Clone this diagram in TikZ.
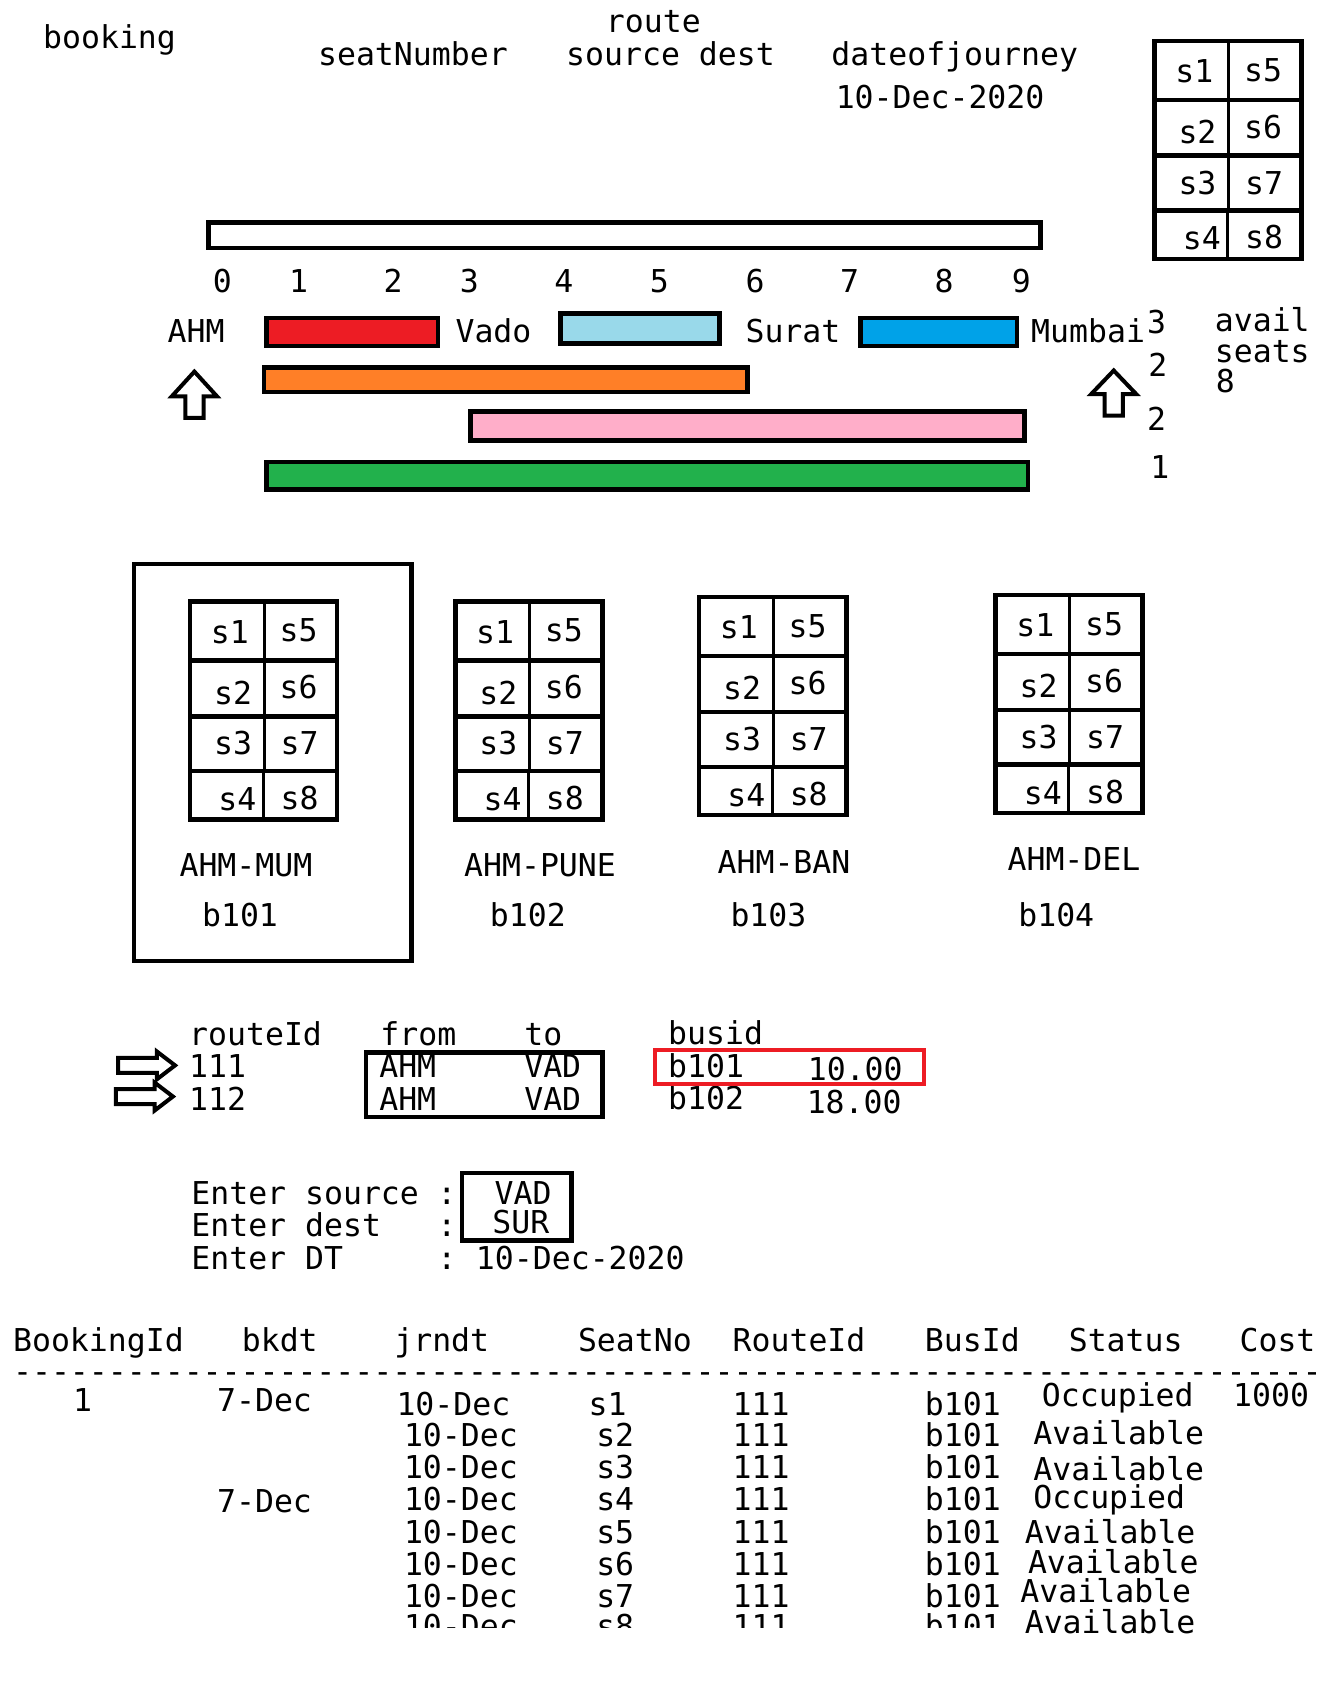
\documentclass[tikz,border=0pt]{standalone}
\usepackage{fontspec}
\newfontfamily\djm{DejaVu Sans Mono}[Ligatures=TeXOff]
\definecolor{pred}{HTML}{ED1C24}
\definecolor{plblue}{HTML}{99D9EA}
\definecolor{pblue}{HTML}{00A2E8}
\definecolor{porange}{HTML}{FF7F27}
\definecolor{ppink}{HTML}{FFAEC9}
\definecolor{pgreen}{HTML}{22B14C}
\tikzset{
  t/.style={font=\djm\fontsize{31.5}{36}\selectfont, inner sep=0pt, text height=23pt, text depth=0pt},
  tw/.style={t, anchor=west},
  thickline/.style={line width=4.5pt},
  bar/.style={draw=black, line width=4.5pt},
  blockarrow/.style={draw=black, line width=4pt, fill=white, line join=miter},
  seatgrid/.pic={
    \draw[thickline] (0,0) rectangle (137,203);
    \draw[thickline] (0,55)--(137,55) (0,107)--(137,107) (0,158)--(137,158);
    \draw[line width=3pt] (69,0)--(69,158);
    \draw[line width=3pt] (68,158)--(68,205);
    \node[t] (-s1) at (37,28) {s1};
    \node[t] (-s5) at (101,27) {s5};
    \node[t] (-s2) at (40,85) {s2};
    \node[t] (-s6) at (101,80) {s6};
    \node[t] (-s3) at (40,132) {s3};
    \node[t] (-s7) at (102,132) {s7};
    \node[t] (-s4) at (44,184) {s4};
    \node[t] (-s8) at (102,183) {s8};
  }
}
\begin{document}
\begin{tikzpicture}[x=1.074pt,y=-1.074pt]
\useasboundingbox (0,0) rectangle (1247.7,1568);

% top labels
\node[tw] (booking) at (40,34) {booking};
\node[tw] (route) at (564,20) {route};
\node[tw] (seatnum) at (296,50) {seatNumber};
\node[tw] (srcdest) at (527,50) {source dest};
\node[tw] (doj) at (774,50) {dateofjourney};
\node[tw] (dojval) at (778,90) {10-Dec-2020};

\pic (tg) at (1075,38) {seatgrid};

% scale bar
\draw[bar, fill=white] (194,207) rectangle (969,231);
\foreach \n/\xx in {0/207,1/278,2/366,3/437,4/525,5/614,6/703,7/791,8/879,9/951}
  \node[t] (num\n) at (\xx,262) {\n};

% stations and segments
\node[tw] (ahm) at (156,308) {AHM};
\draw[bar, fill=pred] (248,296) rectangle (408,322);
\node[tw] (vado) at (424,308) {Vado};
\draw[bar, fill=plblue] (522,292) rectangle (670,320);
\node[tw] (surat) at (694,308) {Surat};
\draw[bar, fill=pblue] (801,296) rectangle (947,322);
\node[tw] (mumbai) at (960,308) {Mumbai};
\node[t] (c3) at (1077,300) {3};
\node[tw] (avail) at (1131,298) {avail};
\node[tw] (seats) at (1131,327) {seats};
\node[tw] (eight) at (1132,355) {8};

\draw[bar, fill=porange] (246,342) rectangle (696,365);
\node[t] (c2a) at (1078,340) {2};
\draw[bar, fill=ppink] (438,383) rectangle (954,410);
\node[t] (c2b) at (1077,390) {2};
\draw[bar, fill=pgreen] (248,430) rectangle (957,456);
\node[t] (c1) at (1080,435) {1};

% up arrows
\draw[blockarrow] (181,346) -- (202,369) -- (189.5,369) -- (189.5,389) -- (172.5,389) -- (172.5,369) -- (160,369) -- cycle;
\draw[blockarrow] (1037,345) -- (1058,367) -- (1045.5,367) -- (1045.5,387) -- (1028.5,387) -- (1028.5,367) -- (1016,367) -- cycle;

% buses
\draw[thickline] (125,525) rectangle (383,895);
\pic (g1) at (177,560) {seatgrid};
\pic (g2) at (424,560) {seatgrid};
\pic (g3) at (651,556) {seatgrid};
\pic (g4) at (927,554) {seatgrid};
\node[tw] (r1) at (167,805) {AHM-MUM};
\node[tw] (b1) at (188,852) {b101};
\node[tw] (r2) at (432,805) {AHM-PUNE};
\node[tw] (b2) at (456,852) {b102};
\node[tw] (r3) at (668,803) {AHM-BAN};
\node[tw] (b3) at (680,852) {b103};
\node[tw] (r4) at (938,800) {AHM-DEL};
\node[tw] (b4) at (948,852) {b104};

% route table
\node[tw] (routeid) at (176,963) {routeId};
\node[tw] (from) at (354,963) {from};
\node[tw] (to) at (488,963) {to};
\node[tw] (busid) at (622,962) {busid};
\node[tw] (r111) at (176,993) {111};
\node[tw] (r112) at (176,1023) {112};
\draw[blockarrow] (110,985) -- (146,985) -- (146,979) -- (163,992) -- (146,1005) -- (146,999) -- (110,999) -- cycle;
\draw[blockarrow] (108,1014) -- (144,1014) -- (144,1008) -- (161,1021) -- (144,1034) -- (144,1028) -- (108,1028) -- cycle;
\draw[thickline] (341,980) rectangle (561,1040);
\node[tw] (f1) at (353,993) {AHM};
\node[tw] (t1) at (488,993) {VAD};
\node[tw] (f2) at (353,1023) {AHM};
\node[tw] (t2) at (488,1023) {VAD};
\node[tw] (bb1) at (622,993) {b101};
\node[tw] (p1) at (752,995) {10.00};
\node[tw] (bb2) at (622,1022) {b102};
\node[tw] (p2) at (751,1026) {18.00};
\draw[draw=pred, line width=3.8pt] (610,978) rectangle (860,1009);

% input block
\node[tw] (esrc) at (178,1111) {Enter source};
\node[tw] (edst) at (178,1141) {Enter dest};
\node[tw] (edt) at (178,1171) {Enter DT};
\node[t] (col1) at (416,1111) {:};
\node[t] (col2) at (416,1141) {:};
\node[t] (col3) at (416,1171) {:};
\draw[thickline] (430,1092) rectangle (532,1155);
\node[t] (vsrc) at (487,1111) {VAD};
\node[t] (vdst) at (485,1138) {SUR};
\node[tw] (vdt) at (443,1171) {10-Dec-2020};

% booking table
\node[tw] (hbid) at (12,1248) {BookingId};
\node[tw] (hbk) at (225,1248) {bkdt};
\node[tw] (hjr) at (367,1248) {jrndt};
\node[tw] (hseat) at (538,1248) {SeatNo};
\node[tw] (hroute) at (682,1248) {RouteId};
\node[tw] (hbus) at (861,1248) {BusId};
\node[tw] (hstat) at (995,1248) {Status};
\node[tw] (hcost) at (1154,1248) {Cost};
\node[t, anchor=base west, text height=10pt] (dashes) at (12,1287) {---------------------------------------------------------------------};

\node[tw] (id1) at (68,1304) {1};
\node[tw] (bk1) at (202,1304) {7-Dec};
\node[tw] (jr1) at (369,1307) {10-Dec};
\node[tw] (se1) at (548,1307) {s1};
\node[tw] (ro1) at (682,1307) {111};
\node[tw] (bu1) at (861,1307) {b101};
\node[tw] (st1) at (970,1299) {Occupied};
\node[tw] (co1) at (1148,1299) {1000};
\node[tw] (bk4) at (202,1398) {7-Dec};

\foreach \r/\yy/\sx/\sy/\st in {2/1336/962/1334/Available,3/1366/962/1368/Available,4/1396/962/1394/Occupied,5/1426/954/1426/Available,6/1456/957/1454/Available,7/1486/950/1481/Available}{
  \node[tw] (jr\r) at (376,\yy) {10-Dec};
  \node[tw] (se\r) at (555,\yy) {s\r};
  \node[tw] (ro\r) at (682,\yy) {111};
  \node[tw] (bu\r) at (861,\yy) {b101};
  \node[tw] (st\r) at (\sx,\sy) {\st};
}
\begin{scope}
  \clip (0,1490) rectangle (1247,1515);
  \node[tw] (jr8) at (376,1514) {10-Dec};
  \node[tw] (se8) at (555,1514) {s8};
  \node[tw] (ro8) at (682,1514) {111};
  \node[tw] (bu8) at (861,1514) {b101};
\end{scope}
\node[tw] (st8) at (954,1510) {Available};
\end{tikzpicture}
\end{document}
